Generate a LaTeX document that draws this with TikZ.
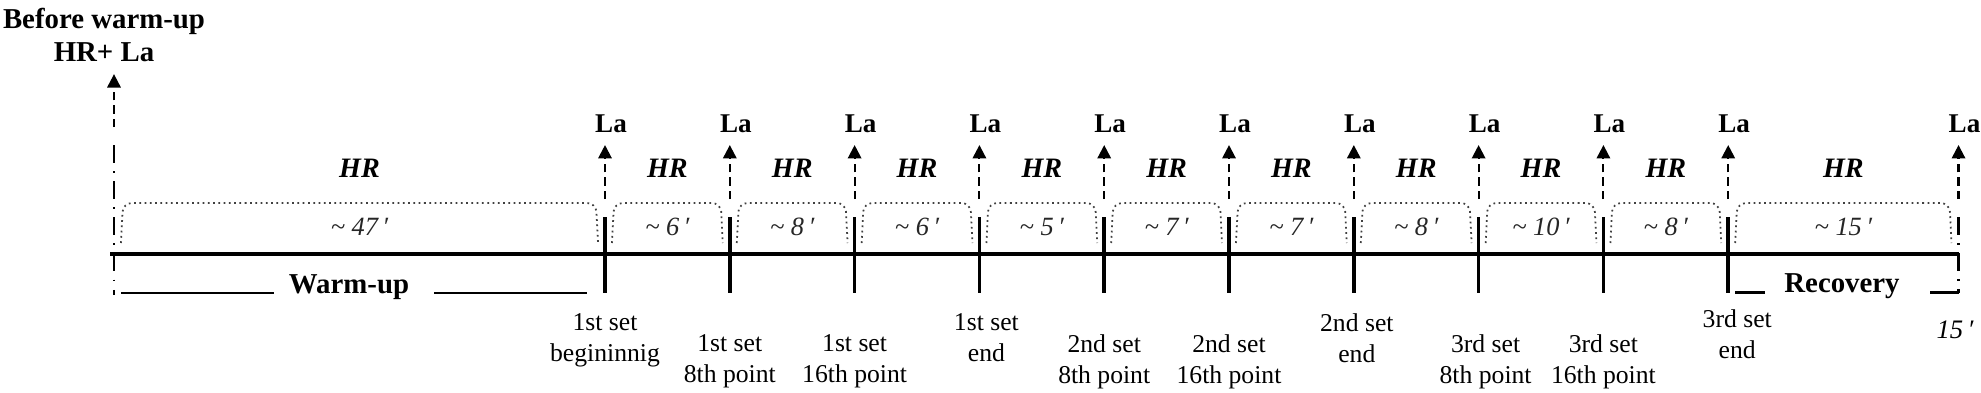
\documentclass[tikz,border=0pt]{standalone}
\usepackage{fontspec}
\setmainfont{Liberation Serif}
\usetikzlibrary{arrows.meta,calc}

\begin{document}
\begin{tikzpicture}[
	>={Triangle[length=3.8pt,width=3.8pt]}, line width=0.6pt,
	timeline/.style={line width=0.9pt, black},
	tickline/.style={line width=1pt, black},
	sample/.style={->, line width=0.6pt, dash pattern=on 2.4pt off 1.4pt},
	edgeline/.style={line width=0.8pt, dash pattern=on 5pt off 2.4pt on 0.5pt off 2.4pt},
	hrbrace/.style={line width=0.5pt, black!75, densely dotted, rounded corners=2.5pt},
	underbar/.style={line width=0.6pt},
	phase/.style={font=\fontsize{8.2}{9.4}\selectfont\bfseries},
	la/.style={font=\fontsize{7.7}{9}\selectfont\bfseries, anchor=base},
	hr/.style={font=\fontsize{8}{9}\selectfont\bfseries\itshape, anchor=base},
	dur/.style={font=\fontsize{7.5}{9}\selectfont\itshape, black!85, anchor=base},
	pointlbl/.style={font=\fontsize{7.3}{8.8}\selectfont, align=center, anchor=north, inner sep=0pt}]
	\useasboundingbox (0,-1.38) rectangle (19.81,2.54);
	\def\u{1.248}    %% distance between two samples
	\def\yb{0.11cm}  %% foot of the HR brackets
	\def\yt{0.51cm}  %% top of the HR brackets
	
	%% time points: start, ten samples, end of recovery
	\coordinate (p0) at (1.14,0);
	\foreach \i in {1,...,10}
		\coordinate (p\i) at ({6.05+(\i-1)*\u},0);
	\coordinate (p11) at (19.585,0);
	
	%% time line with ticks and end lines
	\draw[timeline] (1.10,0) -- (p11);
	\foreach \i in {1,...,10}
		\draw[tickline] ([yshift=0.37cm]p\i) -- ([yshift=-0.39cm]p\i);
	\draw[edgeline] ([yshift=1.09cm]p0) -- ([yshift=-0.41cm]p0);
	\draw[edgeline] ([yshift=0.37cm]p11) -- ([yshift=-0.385cm]p11);
	
	%% first sample
	\node[phase, align=center, anchor=north] (pre) at (1.04,2.59) {Before warm-up\\HR+ La};
	\draw[sample] ([yshift=1.27cm]p0) -- (p0 |- pre.south);
	
	%% lactate samples
	\foreach \i in {1,...,11} {
		\node[la] (la\i) at ([xshift=0.06cm,yshift=1.22cm]p\i) {La};
		\draw[sample] ([yshift=0.55cm]p\i) -- (p\i |- la\i.south);
	}
	
	%% HR brackets and durations
	\foreach \d [count=\j, evaluate=\j as \i using int(\j-1)] in {47,6,8,6,5,7,7,8,10,8,15} {
		\draw[hrbrace] ([xshift=0.07cm,yshift=\yb]p\i) -- ([xshift=0.09cm,yshift=\yt]p\i)
			-- ([xshift=-0.09cm,yshift=\yt]p\j) -- ([xshift=-0.07cm,yshift=\yb]p\j);
		\node[hr] (hr\i) at ($(p\i)!0.5!(p\j)+(0,0.77)$) {HR};
		\node[dur] (d\i) at ($(p\i)!0.5!(p\j)+(0,0.185)$) {\textasciitilde{} \d\,′};
	}
	
	%% phases
	\node[phase, anchor=base] (wu) at (3.49,-0.39) {Warm-up};
	\draw[underbar] (1.21,-0.39) -- (2.74,-0.39);
	\draw[underbar] (4.34,-0.39) -- (5.87,-0.39);
	\node[phase, anchor=base] (rec) at (18.42,-0.385) {Recovery};
	\draw[underbar] (17.35,-0.385) -- (17.65,-0.385);
	\draw[underbar] (19.30,-0.385) -- ([yshift=-0.385cm]p11);
	\node[dur, black, font=\fontsize{7.6}{9}\selectfont\itshape] (fin) at (19.55,-0.84) {15\,′};
	
	%% labels of the samples
	\foreach \i/\txt/\y/\s in {1/1st set\\begininnig/-0.585/0, 2/1st set\\8th point/-0.795/0,
		3/1st set\\16th point/-0.795/0, 4/1st set\\end/-0.585/0.07,
		5/2nd set\\8th point/-0.795/0, 6/2nd set\\16th point/-0.795/0,
		7/2nd set\\end/-0.585/0.03, 8/3rd set\\8th point/-0.795/0.07,
		9/3rd set\\16th point/-0.795/0, 10/3rd set\\end/-0.545/0.09}
		\node[pointlbl] (lb\i) at ([xshift=\s cm,yshift=\y cm]p\i) {\txt};
\end{tikzpicture}
\end{document}
